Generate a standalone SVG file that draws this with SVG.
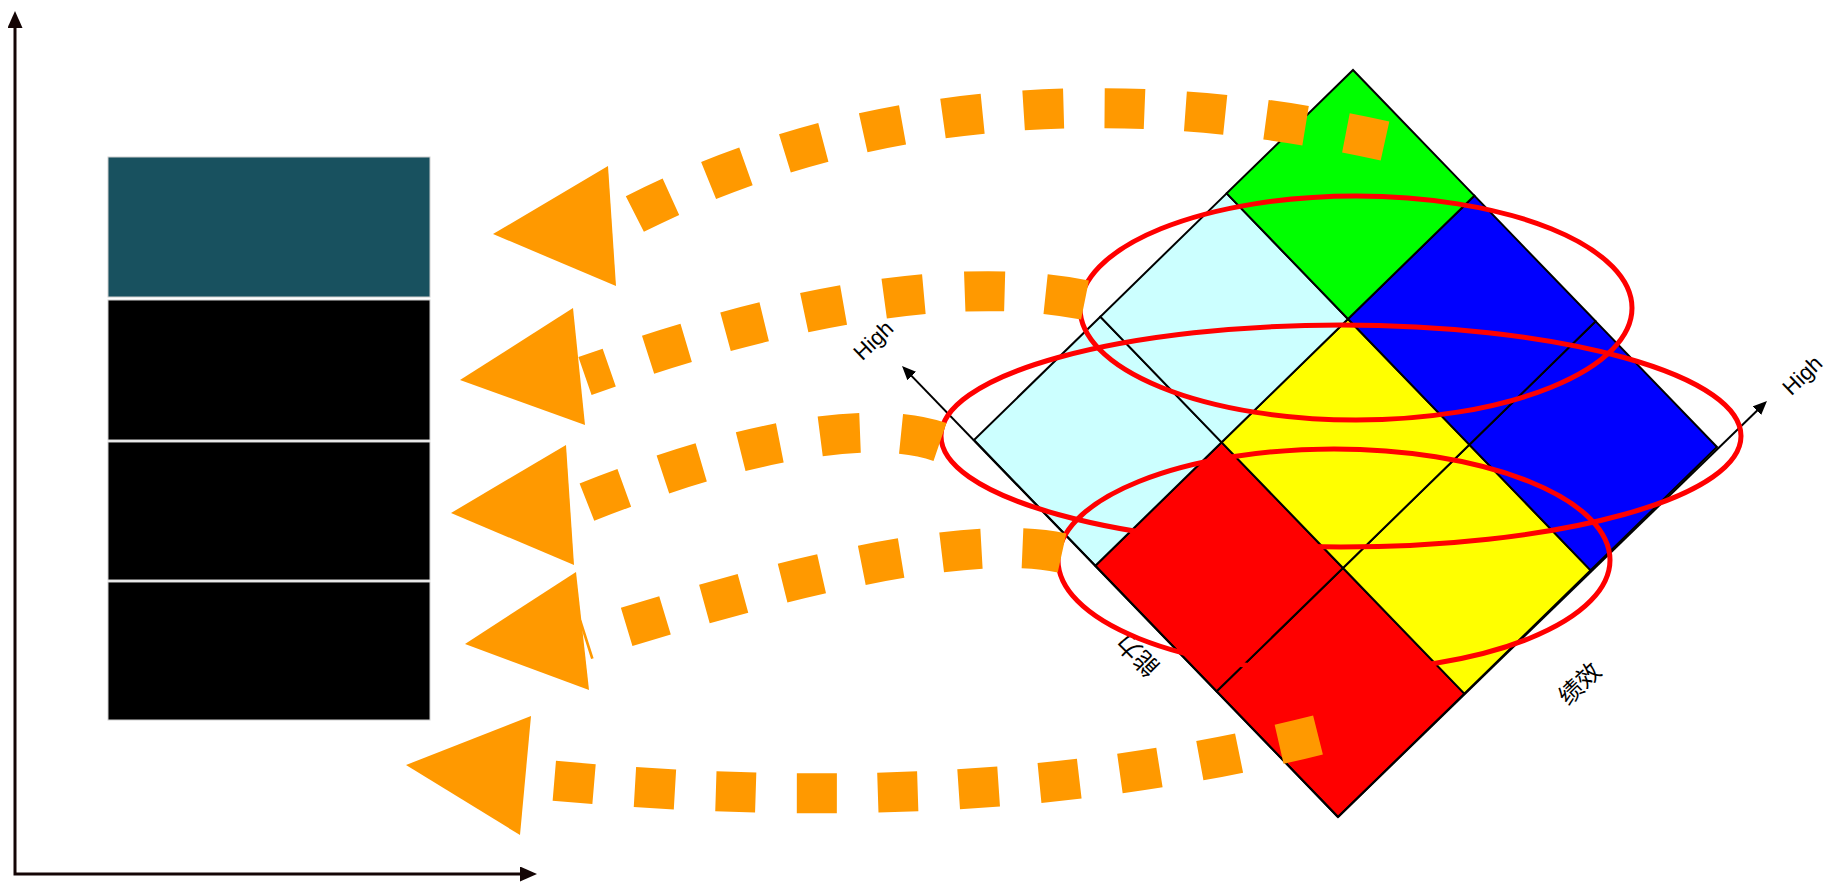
<svg xmlns="http://www.w3.org/2000/svg" width="1837" height="883" viewBox="0 0 1837 883">
<defs>
<style>
.bar{stroke:#d0d0d0;stroke-width:1}
.cell{stroke:#000;stroke-width:2;stroke-linejoin:miter}
.ell{fill:none;stroke:#ff0000;stroke-width:5}
.flow{fill:none;stroke:#ff9900;stroke-width:40;stroke-dasharray:40 41}
.head{fill:#ff9900}
.ax{stroke:#140505;stroke-width:3;fill:none}
.gax{stroke:#000;stroke-width:2;fill:none}
.lbl{font-family:"Liberation Sans",Arial,sans-serif;font-size:22px;fill:#000}
.cjk{font-family:"Liberation Sans","Noto Sans CJK SC",sans-serif;font-size:24px;fill:#000}
</style>
<marker id="arr" viewBox="0 0 17 15" refX="11" refY="7.5" markerWidth="17" markerHeight="15" markerUnits="userSpaceOnUse" orient="auto-start-reverse">
<path d="M0,0 L17,7.5 L0,15 z" fill="#140505"/>
</marker>
<marker id="arr2" viewBox="0 0 14 12" refX="9" refY="6" markerWidth="14" markerHeight="12" markerUnits="userSpaceOnUse" orient="auto">
<path d="M0,0 L14,6 L0,12 z" fill="#000"/>
</marker>
</defs>
<rect width="1837" height="883" fill="#fff"/>

<g id="axes">
<path class="ax" d="M15,17 L15,874 L531,874" marker-start="url(#arr)" marker-end="url(#arr)"/>
</g>

<g id="bars">
<rect id="bar1" class="bar" x="108" y="157" width="322" height="140" fill="#18515f"/>
<rect id="bar2" class="bar" x="108" y="300" width="322" height="140" fill="#000"/>
<rect id="bar3" class="bar" x="108" y="442" width="322" height="138" fill="#000"/>
<rect id="bar4" class="bar" x="108" y="582" width="322" height="138" fill="#000"/>
</g>

<g id="grid">
<polygon id="c00" class="cell" fill="#ff0000" points="1338,817 1464.33,693.67 1343,568 1216.67,691.33"/>
<polygon id="c10" class="cell" fill="#ffff00" points="1464.33,693.67 1590.67,570.33 1469.33,444.67 1343,568"/>
<polygon id="c20" class="cell" fill="#0000ff" points="1590.67,570.33 1717,447 1595.67,321.33 1469.33,444.67"/>
<polygon id="c01" class="cell" fill="#ff0000" points="1216.67,691.33 1343,568 1221.67,442.33 1095.33,565.67"/>
<polygon id="c11" class="cell" fill="#ffff00" points="1343,568 1469.33,444.67 1348,319 1221.67,442.33"/>
<polygon id="c21" class="cell" fill="#0000ff" points="1469.33,444.67 1595.67,321.33 1474.33,195.67 1348,319"/>
<polygon id="c02" class="cell" fill="#ccffff" points="1095.33,565.67 1221.67,442.33 1100.33,316.67 974,440"/>
<polygon id="c12" class="cell" fill="#ccffff" points="1221.67,442.33 1348,319 1226.67,193.33 1100.33,316.67"/>
<polygon id="c22" class="cell" fill="#00ff00" points="1348,319 1474.33,195.67 1353,70 1226.67,193.33"/>
</g>

<g id="grid-axes">
<line class="gax" x1="1338" y1="817" x2="905.5" y2="369.6" marker-end="url(#arr2)"/>
<line class="gax" x1="1338" y1="817" x2="1763.4" y2="404.5" marker-end="url(#arr2)"/>
<text class="lbl" text-anchor="middle" transform="translate(873,340) rotate(-44)" y="8">High</text>
<text class="lbl" text-anchor="middle" transform="translate(1802,375) rotate(-44)" y="8">High</text>
<text class="cjk" text-anchor="middle" transform="translate(1138,655) rotate(-135)" y="8">能力</text>
<text class="cjk" text-anchor="middle" transform="translate(1580,684) rotate(-44)" y="8">绩效</text>
</g>

<g id="groups">
<ellipse id="e1" class="ell" cx="1356" cy="308" rx="276" ry="112"/>
<ellipse id="e2" class="ell" cx="1341" cy="436" rx="400" ry="111"/>
<ellipse id="e3" class="ell" cx="1334" cy="560" rx="276" ry="111"/>
</g>

<g id="connectors">
<path class="flow" d="M1385,141 C1200,100 900,70 612,226"/>
<polygon class="head" points="493,234 608,166 616,286"/>
<path class="flow" d="M1085,300 C1000,283 850,282 585,376"/>
<polygon class="head" points="460,380 573,308 585,425"/>
<path class="flow" d="M940,442 C870,418 740,440 572,508"/>
<polygon class="head" points="451,513 566,445 574,565"/>
<path class="flow" d="M1062,553 C980,535 820,565 585,640"/>
<polygon class="head" points="465,644 576,572 589,690"/>
<path class="flow" d="M1318,735 C1100,790 850,810 525,778"/>
<polygon class="head" points="406,765 531,716 520,835"/>
</g>
</svg>
